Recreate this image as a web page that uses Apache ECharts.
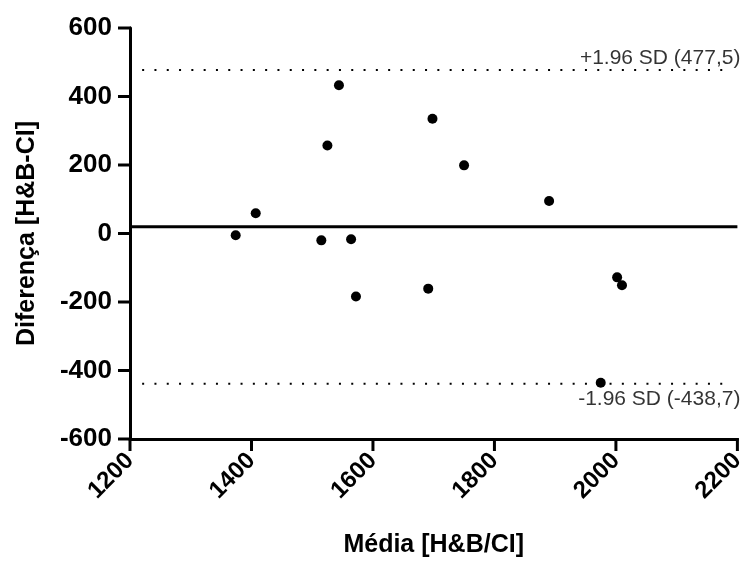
<!DOCTYPE html>
<html>
<head>
<meta charset="utf-8">
<script src="https://cdn.jsdelivr.net/npm/echarts@6/dist/echarts.min.js"></script>
<style>
html,body{margin:0;padding:0;background:#fff;}
#chart{width:748px;height:563px;}
</style>
</head>
<body>
<div id="chart"></div>
<script>
// Bland-Altman data
var meanValues = [1374, 1407, 1515, 1525, 1544, 1564, 1572, 1691, 1698, 1750, 1890, 1975, 2002, 2010];
var diffValues = [-5, 59, -20, 257, 433, -17, -184, -161, 335, 199, 95, -436, -128, -151];
var upperLimit = 477.5;
var lowerLimit = -438.7;
var bias = 19.4;
var limitXRange = [1220, 2180];
var biasXRange = [1200, 2200];
var labelX = 2200;
var upperLabel = '+1.96 SD (477,5)';
var lowerLabel = '-1.96 SD (-438,7)';
var xTicks = {min: 1200, max: 2200, interval: 200};
var yTicks = {min: -600, max: 600, interval: 200};
var xTickValues = [1200, 1400, 1600, 1800, 2000, 2200];
var yTickValues = [-600, -400, -200, 0, 200, 400, 600];
var xTitle = 'Média [H&B/CI]';
var yTitle = 'Diferença [H&B-CI]';

var points = meanValues.map(function (m, i) { return [m, diffValues[i]]; });
var xTickData = xTickValues.map(function (v) { return [v, yTicks.min]; });
var yTickData = yTickValues.map(function (v) { return [xTicks.min, v]; });
var FONT = '"Liberation Sans", Arial, sans-serif';
var TICK_LEN = 12;

var chart = echarts.init(document.getElementById('chart'), null, {renderer: 'canvas'});

function plain(v) { return String(v); }

var xAxis = {
  type: 'value',
  min: xTicks.min, max: xTicks.max, interval: xTicks.interval,
  name: xTitle, nameLocation: 'middle', nameGap: 94,
  nameTextStyle: {color: '#000', fontSize: 25, fontWeight: 'bold', fontFamily: FONT},
  axisLine: {show: true, onZero: false, lineStyle: {color: '#000', width: 3}},
  axisTick: {show: false},
  splitLine: {show: false},
  axisLabel: {rotate: 45, color: '#000', fontSize: 24, fontWeight: 'bold', fontFamily: FONT, margin: 18, formatter: plain}
};
var yAxis = {
  type: 'value',
  min: yTicks.min, max: yTicks.max, interval: yTicks.interval,
  name: yTitle, nameLocation: 'middle', nameGap: 90,
  nameTextStyle: {color: '#000', fontSize: 25, fontWeight: 'bold', fontFamily: FONT},
  axisLine: {show: true, onZero: false, lineStyle: {color: '#000', width: 3}},
  axisTick: {show: false},
  splitLine: {show: false},
  axisLabel: {color: '#000', fontSize: 26, fontWeight: 'bold', fontFamily: FONT, margin: 18, formatter: plain}
};

var labelStyle = {color: '#000', fontSize: 21, fontFamily: FONT, textBorderWidth: 0};

function tickRenderer(vertical) {
  return function (params, api) {
    var p = api.coord([api.value(0), api.value(1)]);
    var shape = vertical
      ? {x1: p[0], y1: p[1] - 1, x2: p[0], y2: p[1] + TICK_LEN}
      : {x1: p[0] - TICK_LEN, y1: p[1], x2: p[0] + 1, y2: p[1]};
    return {type: 'line', shape: shape, style: {stroke: '#000', lineWidth: 3}};
  };
}

chart.setOption({
  animation: false,
  backgroundColor: '#fff',
  grid: {left: 130, right: 5, top: 28, bottom: 123},
  xAxis: xAxis,
  yAxis: yAxis,
  series: [
    {
      type: 'custom',
      data: xTickData,
      renderItem: tickRenderer(true),
      clip: false,
      silent: true,
      z: 5
    },
    {
      type: 'custom',
      data: yTickData,
      renderItem: tickRenderer(false),
      clip: false,
      silent: true,
      z: 5
    },
    {
      type: 'line',
      data: [[biasXRange[0], bias], [biasXRange[1], bias]],
      showSymbol: false, symbol: 'none',
      lineStyle: {color: '#000', width: 3},
      z: 2
    },
    {
      type: 'line',
      data: [[limitXRange[0], upperLimit], [limitXRange[1], upperLimit]],
      symbol: 'none', showSymbol: false,
      lineStyle: {color: '#000', width: 2, type: [2, 10.3]},
      z: 2
    },
    {
      type: 'line',
      data: [[limitXRange[0], lowerLimit], [limitXRange[1], lowerLimit]],
      symbol: 'none', showSymbol: false,
      lineStyle: {color: '#000', width: 2, type: [2, 10.3]},
      z: 2
    },
    {
      type: 'scatter',
      data: [
        {value: [labelX, upperLimit], label: Object.assign({show: true, formatter: upperLabel, position: 'top', align: 'right', distance: 1, offset: [3, 0]}, labelStyle)},
        {value: [labelX, lowerLimit], label: Object.assign({show: true, formatter: lowerLabel, position: 'bottom', align: 'right', distance: 4, offset: [3, 0]}, labelStyle)}
      ],
      symbolSize: 1,
      itemStyle: {color: 'rgba(0,0,0,0)'},
      silent: true,
      z: 4
    },
    {
      type: 'scatter',
      data: points,
      symbol: 'circle', symbolSize: 10,
      itemStyle: {color: '#000', opacity: 1},
      z: 3
    }
  ]
});
</script>
</body>
</html>
